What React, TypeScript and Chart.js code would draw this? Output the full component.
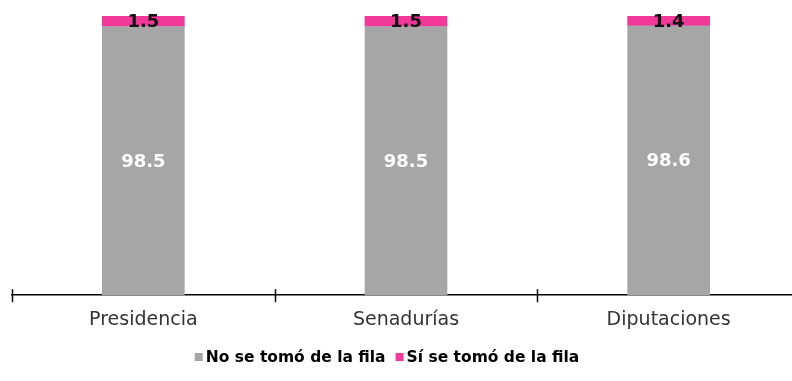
import React, { useEffect, useRef } from "react";
import { Chart, registerables } from "chart.js";

Chart.register(...registerables);

const categories = ["Presidencia", "Senadurías", "Diputaciones"];
const noSeTomo = [98.5, 98.5, 98.6];
const siSeTomo = [1.5, 1.5, 1.4];
const seriesNames = ["No se tomó de la fila", "Sí se tomó de la fila"];

const GRAY = "#A6A6A6";
const PINK = "#F2399A";
const FONT = "'DejaVu Sans', Verdana, sans-serif";

const valueLabels = {
  id: "valueLabels",
  afterDatasetsDraw(chart: any) {
    const ctx = chart.ctx;
    const area = chart.chartArea;
    ctx.save();
    ctx.textAlign = "center";
    ctx.textBaseline = "middle";
    chart.data.datasets.forEach((ds: any, di: number) => {
      const meta = chart.getDatasetMeta(di);
      meta.data.forEach((bar: any, i: number) => {
        const v = ds.data[i];
        const txt = v.toFixed(1);
        const top = Math.max(Math.min(bar.y, bar.base), area.top);
        const bottom = Math.min(Math.max(bar.y, bar.base), area.bottom);
        ctx.font = `bold 18px ${FONT}`;
        ctx.fillStyle = di === 0 ? "#FFFFFF" : "#111111";
        ctx.fillText(txt, bar.x, (top + bottom) / 2 + 1);
      });
    });
    ctx.restore();
  },
};

const crossTicks = {
  id: "crossTicks",
  afterDraw(chart: any) {
    const x = chart.scales.x;
    const ctx = chart.ctx;
    const n = categories.length;
    const step = (x.right - x.left) / n;
    ctx.save();
    ctx.strokeStyle = "#000000";
    ctx.lineWidth = 1.5;
    for (let i = 0; i <= n; i++) {
      const px = Math.round(x.left + step * i) + 0.5;
      ctx.beginPath();
      ctx.moveTo(px, x.top - 6);
      ctx.lineTo(px, x.top + 7);
      ctx.stroke();
    }
    ctx.restore();
  },
};

const centeredLegend = {
  id: "centeredLegend",
  afterDraw(chart: any) {
    const ctx = chart.ctx;
    const cx = 387;
    const cy = 357;
    const box = 8;
    const gap = 3;
    const itemGap = 10;
    ctx.save();
    ctx.font = `bold 15.5px ${FONT}`;
    ctx.textBaseline = "middle";
    ctx.textAlign = "left";
    const items = chart.data.datasets.map((ds: any) => ({
      label: ds.label,
      color: ds.backgroundColor,
      w: ctx.measureText(ds.label).width,
    }));
    const total =
      items.reduce((s: number, it: any) => s + box + gap + it.w, 0) +
      itemGap * (items.length - 1);
    let x = cx - total / 2;
    items.forEach((it: any) => {
      ctx.fillStyle = it.color;
      ctx.fillRect(x, cy - box / 2, box, box);
      x += box + gap;
      ctx.fillStyle = "#000000";
      ctx.fillText(it.label, x, cy + 1);
      x += it.w + itemGap;
    });
    ctx.restore();
  },
};

export default function App() {
  const ref = useRef<HTMLCanvasElement>(null);
  useEffect(() => {
    document.body.style.margin = "0";
    document.body.style.overflow = "hidden";
    const chart = new Chart(ref.current!, {
      type: "bar",
      data: {
        labels: categories,
        datasets: [
          {
            label: seriesNames[0],
            data: noSeTomo,
            backgroundColor: GRAY,
            barThickness: 82,
          },
          {
            label: seriesNames[1],
            data: siSeTomo,
            backgroundColor: PINK,
            barThickness: 82,
          },
        ],
      },
      options: {
        animation: false,
        responsive: false,
        layout: { padding: { top: 16, left: 12, right: 0, bottom: 37 } },
        plugins: {
          tooltip: { enabled: false },
          legend: { display: false },
        },
        scales: {
          x: {
            stacked: true,
            grid: { display: false, drawTicks: false },
            border: { display: true, color: "#000000", width: 1.5 },
            ticks: {
              color: "#333333",
              font: { family: FONT, size: 19 },
              padding: 13,
            },
          },
          y: {
            stacked: true,
            display: false,
            min: 60,
            max: 100,
          },
        },
      },
      plugins: [valueLabels, crossTicks, centeredLegend],
    });
    return () => chart.destroy();
  }, []);
  return (
    <div style={{ width: 792, height: 381, overflow: "hidden", position: "relative" }}>
      <canvas ref={ref} width={800} height={381} style={{ display: "block" }} />
    </div>
  );
}
